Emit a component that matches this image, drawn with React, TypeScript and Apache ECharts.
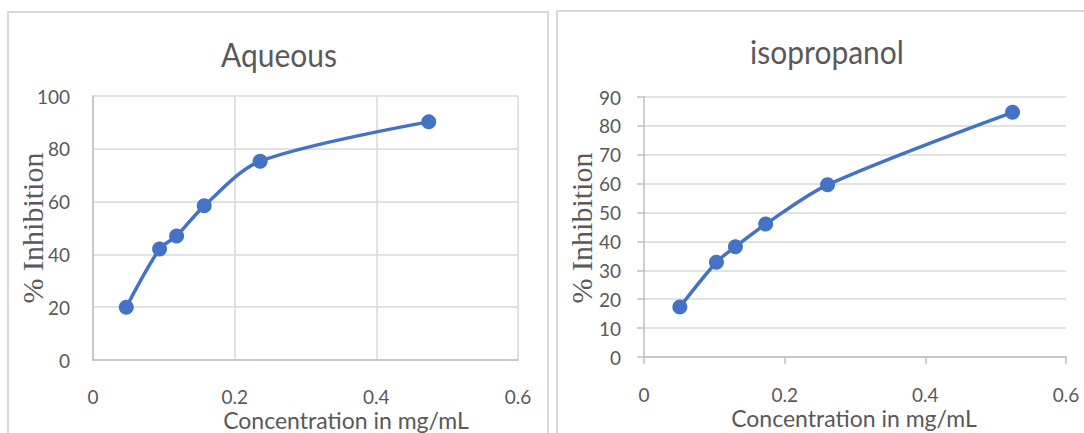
import React, { useEffect, useRef } from "react";
import * as echarts from "echarts";

// ---- data ----
const aqueousConc = [0.047, 0.094, 0.118, 0.157, 0.236, 0.474];
const aqueousInhibition = [20, 42, 47, 58.4, 75.3, 90.2];
const isoConc = [0.051, 0.103, 0.13, 0.173, 0.261, 0.524];
const isoInhibition = [17.3, 32.8, 38.2, 46.0, 59.6, 84.7];

const panelTitles = ["Aqueous", "isopropanol"];
const xAxisTitle = "Concentration in mg/mL";
const yAxisTitle = "% Inhibition";

const xRange = { min: 0, max: 0.6, interval: 0.2 };
const aqueousYRange = { min: 0, max: 100, interval: 20 };
const isoYRange = { min: 0, max: 90, interval: 10 };

const BLUE = "#4472C4";
const GRID = "#d9d9d9";
const AXIS = "#bfbfbf";
const TEXT = "#595959";
const SANS = "Lato, 'Open Sans', sans-serif";

function pairs(xs: number[], ys: number[]) {
  return xs.map((x, i) => [x, ys[i]]);
}

export default function App() {
  const ref = useRef<HTMLDivElement>(null);

  useEffect(() => {
    if (!ref.current) return;
    const chart = echarts.init(ref.current, undefined, { renderer: "svg" });

    const labelStyle = {
      color: TEXT,
      fontFamily: SANS,
      fontSize: 19,
    };

    const seriesBase = {
      type: "line",
      smooth: 0.3,
      symbol: "circle",
      symbolSize: 15,
      lineStyle: { color: BLUE, width: 3.5 },
      itemStyle: { color: BLUE },
      z: 5,
    };

    const titleText = (text: string, x: number, y: number) => ({
      type: "text",
      x,
      y,
      scaleY: 1.12,
      style: {
        text,
        fill: TEXT,
        font: `30px ${SANS}`,
        align: "center",
        verticalAlign: "middle",
      },
    });

    const xName = (x: number, y: number) => ({
      type: "text",
      x,
      y,
      style: {
        text: xAxisTitle,
        fill: TEXT,
        font: `23px ${SANS}`,
        align: "center",
        verticalAlign: "middle",
      },
    });

    const yName = (x: number, y: number) => ({
      type: "text",
      x,
      y,
      rotation: Math.PI / 2,
      style: {
        text: yAxisTitle,
        fill: TEXT,
        font: `30px "Liberation Serif", serif`,
        align: "center",
        verticalAlign: "middle",
      },
    });

    const option: any = {
      animation: false,
      backgroundColor: "#ffffff",
      grid: [
        { left: 93, top: 96, width: 425, height: 264, containLabel: false },
        { left: 644, top: 97, width: 422, height: 260, containLabel: false },
      ],
      xAxis: [
        {
          type: "value",
          gridIndex: 0,
          ...xRange,
          axisLine: { show: true, lineStyle: { color: AXIS, width: 1.5 } },
          axisTick: { show: false },
          splitLine: { show: true, lineStyle: { color: GRID, width: 1.5 } },
          axisLabel: { ...labelStyle, margin: 27 },
        },
        {
          type: "value",
          gridIndex: 1,
          ...xRange,
          axisLine: { show: true, lineStyle: { color: AXIS, width: 1.5 } },
          axisTick: { show: true, length: 7, lineStyle: { color: AXIS, width: 1.5 } },
          splitLine: { show: false },
          axisLabel: { ...labelStyle, margin: 28 },
        },
      ],
      yAxis: [
        {
          type: "value",
          gridIndex: 0,
          ...aqueousYRange,
          axisLine: { show: true, lineStyle: { color: AXIS, width: 1.5 } },
          axisTick: { show: false },
          splitLine: { show: true, lineStyle: { color: GRID, width: 1.5 } },
          axisLabel: { ...labelStyle, margin: 23 },
        },
        {
          type: "value",
          gridIndex: 1,
          ...isoYRange,
          axisLine: { show: true, lineStyle: { color: AXIS, width: 1.5 } },
          axisTick: { show: true, length: 7, lineStyle: { color: AXIS, width: 1.5 } },
          splitLine: { show: true, lineStyle: { color: GRID, width: 1.5 } },
          axisLabel: { ...labelStyle, margin: 23 },
        },
      ],
      series: [
        {
          ...seriesBase,
          name: panelTitles[0],
          xAxisIndex: 0,
          yAxisIndex: 0,
          data: pairs(aqueousConc, aqueousInhibition),
        },
        {
          ...seriesBase,
          name: panelTitles[1],
          xAxisIndex: 1,
          yAxisIndex: 1,
          data: pairs(isoConc, isoInhibition),
        },
      ],
      graphic: [
        {
          type: "rect",
          shape: { x: 8, y: 12, width: 540, height: 440 },
          style: { fill: "none", stroke: GRID, lineWidth: 2 },
          silent: true,
          z: -10,
        },
        {
          type: "rect",
          shape: { x: 557, y: 11, width: 540, height: 440 },
          style: { fill: "none", stroke: GRID, lineWidth: 2 },
          silent: true,
          z: -10,
        },
        titleText(panelTitles[0], 279, 54),
        titleText(panelTitles[1], 827, 51),
        xName(346, 420),
        xName(854, 418),
        yName(32, 228),
        yName(581, 228),
      ],
    };

    chart.setOption(option);
    return () => chart.dispose();
  }, []);

  return (
    <div
      ref={ref}
      style={{
        position: "fixed",
        left: 0,
        top: 0,
        width: 1084,
        height: 433,
        background: "#ffffff",
      }}
    />
  );
}
